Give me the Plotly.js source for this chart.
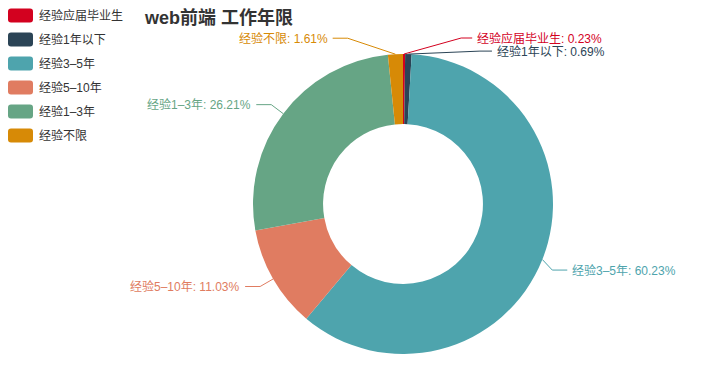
<!DOCTYPE html>
<html>
<head>
<meta charset="utf-8">
<script src="https://cdn.plot.ly/plotly-3.0.1.min.js"></script>
<style>
html,body{margin:0;padding:0;background:#fff;}
#chart{width:716px;height:382px;}
</style>
</head>
<body>
<div id="chart"></div>
<script>
// ---- data ----
var categories = ['经验应届毕业生', '经验1年以下', '经验3-5年', '经验5-10年', '经验1-3年', '经验不限'];
var labelNames = ['经验应届毕业生', '经验1年以下', '经验3–5年', '经验5–10年', '经验1–3年', '经验不限'];
var percents = [0.23, 0.69, 60.23, 11.03, 26.21, 1.61];
var colors = ['#d3011f', '#2b4456', '#4ea4ad', '#e07c61', '#66a585', '#d78a06'];
var titleText = 'web前端 工作年限';

// ---- layout / style constants ----
var W = 716, H = 382;
var CX = 403, CY = 204, R = 150, HOLE = 0.533;
var LEN1 = 15, LEN2 = 15, GAP = 4;
// label elbow shifts (px) to avoid overlap, like ECharts label adjusting
var labelShift = [[57, -1], [71, 12], [-4, 5], [0, 0], [0, 0], [-47, -1]];
var FONT = '"Liberation Sans", "Noto Sans CJK SC", sans-serif';

function px2x(px) { return px / W; }
function py2y(py) { return 1 - py / H; }

var trace = {
  type: 'pie',
  labels: categories,
  values: percents,
  sort: false,
  direction: 'clockwise',
  rotation: 0,
  hole: HOLE,
  textinfo: 'none',
  hoverinfo: 'label+percent',
  marker: { colors: colors, line: { width: 0 } },
  domain: { x: [px2x(CX - R), px2x(CX + R)], y: [py2y(CY + R), py2y(CY - R)] },
  showlegend: false
};

var total = percents.reduce(function (a, b) { return a + b; }, 0);
var shapes = [], annotations = [];
var cum = 0;
percents.forEach(function (v, i) {
  var mid = (cum + v / 2) / total * 2 * Math.PI;
  cum += v;
  var sx = Math.sin(mid), sy = -Math.cos(mid);
  var p0 = [CX + R * sx, CY + R * sy];
  var p1 = [CX + (R + LEN1) * sx + labelShift[i][0], CY + (R + LEN1) * sy + labelShift[i][1]];
  var dir = sx >= 0 ? 1 : -1;
  if (i === 2) dir = 1;
  var len2 = (i === 0) ? 11 : (i === 1 ? 12 : LEN2);
  var p2 = [p1[0] + dir * len2, p1[1]];
  shapes.push({
    type: 'path', xref: 'paper', yref: 'paper',
    path: 'M' + px2x(p0[0]) + ',' + py2y(p0[1]) + ' L' + px2x(p1[0]) + ',' + py2y(p1[1]) + ' L' + px2x(p2[0]) + ',' + py2y(p2[1]),
    line: { color: colors[i], width: 1 }
  });
  annotations.push({
    xref: 'paper', yref: 'paper',
    x: px2x(p2[0] + dir * GAP), y: py2y(p2[1]),
    xanchor: dir > 0 ? 'left' : 'right', yanchor: 'middle',
    text: labelNames[i] + ': ' + v.toFixed(2) + '%',
    showarrow: false,
    font: { family: FONT, size: 12, color: colors[i] },
    borderpad: 0
  });
});

// legend (drawn from categories/colors)
var LEG_X = 8, LEG_Y = 15.5, LEG_STEP = 24, SW = 25, SH = 14, RAD = 3;
labelNames.forEach(function (name, i) {
  var y0 = LEG_Y + i * LEG_STEP - SH / 2, y1 = y0 + SH, x0 = LEG_X, x1 = LEG_X + SW;
  var p = 'M' + px2x(x0 + RAD) + ',' + py2y(y0) +
    ' L' + px2x(x1 - RAD) + ',' + py2y(y0) +
    ' Q' + px2x(x1) + ',' + py2y(y0) + ' ' + px2x(x1) + ',' + py2y(y0 + RAD) +
    ' L' + px2x(x1) + ',' + py2y(y1 - RAD) +
    ' Q' + px2x(x1) + ',' + py2y(y1) + ' ' + px2x(x1 - RAD) + ',' + py2y(y1) +
    ' L' + px2x(x0 + RAD) + ',' + py2y(y1) +
    ' Q' + px2x(x0) + ',' + py2y(y1) + ' ' + px2x(x0) + ',' + py2y(y1 - RAD) +
    ' L' + px2x(x0) + ',' + py2y(y0 + RAD) +
    ' Q' + px2x(x0) + ',' + py2y(y0) + ' ' + px2x(x0 + RAD) + ',' + py2y(y0) + ' Z';
  shapes.push({ type: 'path', xref: 'paper', yref: 'paper', path: p, fillcolor: colors[i], line: { width: 0 } });
  annotations.push({
    xref: 'paper', yref: 'paper', x: px2x(x1 + 5), y: py2y(LEG_Y + i * LEG_STEP),
    xanchor: 'left', yanchor: 'middle', text: name, showarrow: false,
    font: { family: FONT, size: 12, color: '#333' }, borderpad: 0
  });
});

var layout = {
  width: W, height: H,
  margin: { l: 0, r: 0, t: 0, b: 0 },
  paper_bgcolor: '#fff',
  showlegend: false,
  title: {
    text: '<b>' + titleText + '</b>',
    x: 145 / W, xanchor: 'left', xref: 'paper',
    y: 1 - 18 / H, yanchor: 'middle', yref: 'container',
    font: { family: FONT, size: 18, color: '#333' }
  },
  shapes: shapes,
  annotations: annotations
};

Plotly.newPlot('chart', [trace], layout, { displayModeBar: false, staticPlot: true });
</script>
</body>
</html>
